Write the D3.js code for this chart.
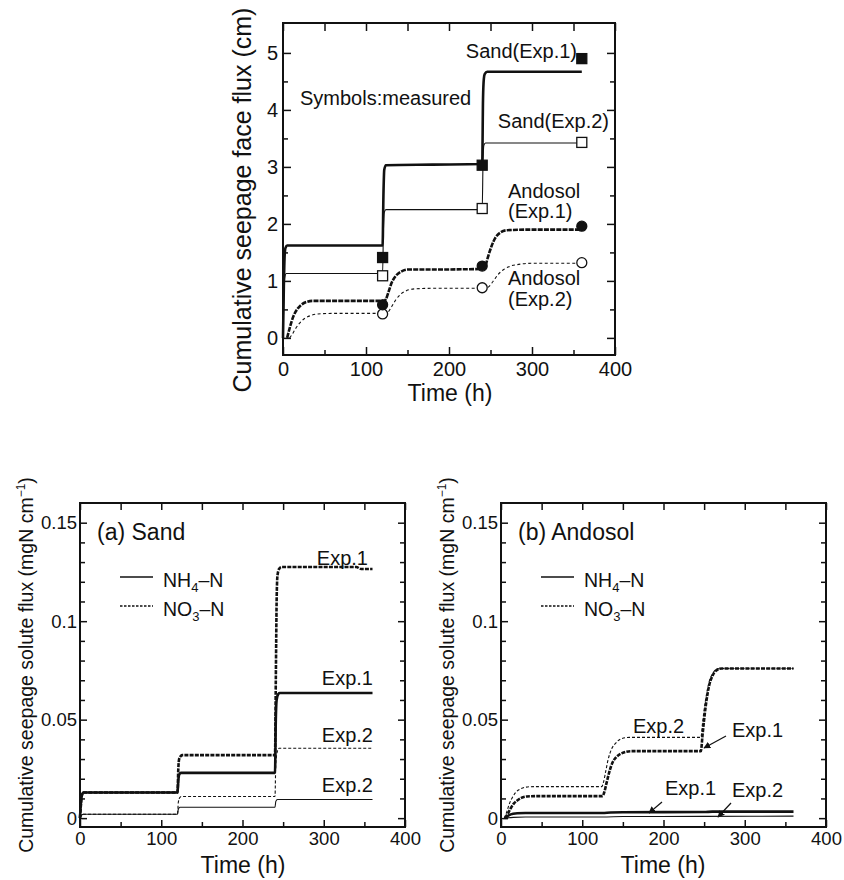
<!DOCTYPE html>
<html>
<head>
<meta charset="utf-8">
<script src="https://cdn.jsdelivr.net/npm/d3@7"></script>
<style>
body { margin: 0; background: #fff; }
text { font-family: "Liberation Sans", Arial, Helvetica, sans-serif; fill: #111; }
</style>
</head>
<body>
<div id="chart"></div>
<script>
// ---------- top panel: cumulative seepage face flux (cm) ----------
var measTime = [120, 240, 360];
var sandExp1Meas = [1.41, 3.03, 4.9];
var sandExp2Meas = [1.09, 2.27, 3.43];
var andoExp1Meas = [0.58, 1.26, 1.96];
var andoExp2Meas = [0.42, 0.88, 1.32];

var sandExp1T = [0, 1, 2, 3, 5, 120, 121, 122, 124, 180, 240, 241, 242, 243, 246, 360];
var sandExp1V = [0, 0.9, 1.45, 1.58, 1.62, 1.62, 2.5, 2.95, 3.03, 3.04, 3.05, 4.2, 4.55, 4.63, 4.67, 4.67];
var sandExp2T = [0, 1, 2, 4, 120, 121, 122, 124, 240, 241, 242, 244, 360];
var sandExp2V = [0, 0.7, 1.05, 1.13, 1.13, 1.9, 2.2, 2.25, 2.25, 3.1, 3.38, 3.42, 3.42];
var andoExp1T = [5, 8, 12, 17, 22, 28, 36, 60, 121, 124, 127, 131, 136, 142, 150, 180, 241, 244, 247, 251, 256, 262, 270, 300, 360];
var andoExp1V = [0, 0.17, 0.36, 0.5, 0.58, 0.63, 0.65, 0.65, 0.65, 0.68, 0.8, 0.97, 1.09, 1.16, 1.2, 1.2, 1.21, 1.27, 1.42, 1.6, 1.76, 1.85, 1.89, 1.9, 1.9];
var andoExp2T = [8, 11, 15, 20, 26, 33, 42, 60, 123, 127, 131, 136, 142, 149, 158, 180, 244, 248, 253, 259, 266, 274, 284, 300, 360];
var andoExp2V = [0, 0.06, 0.16, 0.26, 0.34, 0.39, 0.42, 0.43, 0.43, 0.46, 0.55, 0.67, 0.77, 0.83, 0.86, 0.87, 0.87, 0.9, 0.99, 1.11, 1.2, 1.26, 1.29, 1.31, 1.31];

// ---------- bottom panels: cumulative seepage solute flux ----------
// (a) Sand
var sNH4Exp1T = [0, 1, 2, 4, 120, 121, 122, 124, 240, 241, 242, 244, 246, 360];
var sNH4Exp1V = [0, 0.007, 0.011, 0.013, 0.013, 0.019, 0.022, 0.023, 0.023, 0.05, 0.06, 0.063, 0.0635, 0.0635];
var sNO3Exp1T = [0, 1, 2, 4, 120, 121, 122, 124, 126, 240, 241, 242, 243, 245, 248, 340, 346, 360];
var sNO3Exp1V = [0, 0.006, 0.011, 0.013, 0.013, 0.025, 0.03, 0.0315, 0.032, 0.032, 0.07, 0.11, 0.123, 0.1265, 0.1275, 0.1275, 0.1265, 0.1265];
var sNO3Exp2T = [0, 2, 4, 120, 121, 123, 125, 240, 241, 243, 245, 360];
var sNO3Exp2V = [0, 0.0015, 0.002, 0.002, 0.008, 0.0105, 0.011, 0.011, 0.028, 0.034, 0.0355, 0.0355];
var sNH4Exp2T = [0, 2, 4, 120, 121, 123, 240, 241, 243, 360];
var sNH4Exp2V = [0, 0.0015, 0.002, 0.002, 0.0045, 0.0055, 0.0055, 0.0085, 0.0095, 0.0095];

// (b) Andosol
var aNO3Exp1T = [5, 8, 12, 16, 20, 25, 32, 45, 125, 127, 130, 133, 137, 142, 149, 160, 246, 248, 250, 253, 256, 260, 265, 272, 360];
var aNO3Exp1V = [0, 0.002, 0.005, 0.0075, 0.009, 0.0103, 0.011, 0.0112, 0.0112, 0.013, 0.018, 0.023, 0.028, 0.031, 0.033, 0.034, 0.034, 0.042, 0.05, 0.06, 0.067, 0.072, 0.075, 0.076, 0.076];
var aNO3Exp2T = [4, 7, 10, 14, 18, 24, 30, 40, 124, 126, 129, 132, 136, 141, 148, 158, 246, 248, 250, 253, 256, 260, 265, 272, 360];
var aNO3Exp2V = [0, 0.003, 0.007, 0.0105, 0.013, 0.0148, 0.0157, 0.016, 0.016, 0.018, 0.024, 0.03, 0.035, 0.038, 0.0403, 0.041, 0.041, 0.048, 0.055, 0.063, 0.069, 0.073, 0.0755, 0.076, 0.076];
var aNH4Exp1T = [5, 10, 15, 20, 30, 125, 135, 150, 250, 260, 360];
var aNH4Exp1V = [0, 0.0015, 0.0022, 0.0025, 0.0026, 0.0026, 0.0029, 0.003, 0.0031, 0.0033, 0.0033];
var aNH4Exp2T = [5, 15, 30, 125, 150, 250, 360];
var aNH4Exp2V = [0, 0.0004, 0.0006, 0.0006, 0.0008, 0.0009, 0.001];

var xMajor = [0, 100, 200, 300, 400];
var xMinor = [50, 150, 250, 350];
var topYMajor = [0, 1, 2, 3, 4, 5];
var topYMinor = [0.5, 1.5, 2.5, 3.5, 4.5];
var botYMajor = [0, 0.05, 0.1, 0.15];
var botYMinor = [0.01, 0.02, 0.03, 0.04, 0.06, 0.07, 0.08, 0.09, 0.11, 0.12, 0.13, 0.14];
var botYLabels = ["0", "0.05", "0.1", "0.15"];

var svg = d3.select("#chart").append("svg")
    .attr("width", 844)
    .attr("height", 880);

var defs = svg.append("defs");
defs.append("marker")
    .attr("id", "arrow")
    .attr("viewBox", "0 0 10 10")
    .attr("refX", 9).attr("refY", 5)
    .attr("markerWidth", 7).attr("markerHeight", 7)
    .attr("markerUnits", "userSpaceOnUse")
    .attr("orient", "auto")
    .append("path")
    .attr("d", "M0,0L10,5L0,10z")
    .attr("fill", "#111");

function panel(o) {
    var g = svg.append("g").attr("transform", "translate(" + o.left + "," + o.top + ")");
    var w = o.right - o.left, h = o.bottom - o.top;
    var x = d3.scaleLinear().domain([0, 400]).range([0, w]);
    var y = d3.scaleLinear().domain(o.yDomain).range([h, 0]);

    function styleAxis(sel) {
        sel.select(".domain").remove();
        sel.selectAll("line").attr("stroke", "#111").attr("stroke-width", 1.5);
        sel.selectAll("text").attr("font-size", o.tickFont).attr("fill", "#111")
            .attr("font-family", "Liberation Sans, Arial, sans-serif");
    }

    // bottom / top
    g.append("g").attr("transform", "translate(0," + h + ")")
        .call(d3.axisBottom(x).tickValues(xMajor).tickSize(-o.major).tickPadding(o.xPad).tickFormat(d3.format("d")))
        .call(styleAxis);
    g.append("g").attr("transform", "translate(0," + h + ")")
        .call(d3.axisBottom(x).tickValues(xMinor).tickSize(-o.minor).tickFormat(""))
        .call(styleAxis);
    g.append("g")
        .call(d3.axisTop(x).tickValues(xMajor.concat(xMinor)).tickSize(-o.major).tickFormat(""))
        .call(styleAxis);
    // left / right
    g.append("g")
        .call(d3.axisLeft(y).tickValues(o.yMajor).tickSize(-o.major).tickPadding(o.yPad)
            .tickFormat(function (d, i) { return o.yLabels ? o.yLabels[i] : d; }))
        .call(styleAxis);
    g.append("g")
        .call(d3.axisLeft(y).tickValues(o.yMinor).tickSize(-o.minor).tickFormat(""))
        .call(styleAxis);
    g.append("g").attr("transform", "translate(" + w + ",0)")
        .call(d3.axisRight(y).tickValues(o.yMajor).tickSize(-o.major).tickFormat(""))
        .call(styleAxis);
    g.append("g").attr("transform", "translate(" + w + ",0)")
        .call(d3.axisRight(y).tickValues(o.yMinor).tickSize(-o.minor).tickFormat(""))
        .call(styleAxis);

    g.append("rect")
        .attr("width", w).attr("height", h)
        .attr("fill", "none").attr("stroke", "#111").attr("stroke-width", 2);

    return { g: g, x: x, y: y, w: w, h: h };
}

function addLine(p, ts, vs, width, dash) {
    var pts = ts.map(function (t, i) { return [t, vs[i]]; });
    p.g.append("path").datum(pts)
        .attr("fill", "none")
        .attr("stroke", "#111")
        .attr("stroke-width", width)
        .attr("stroke-dasharray", dash || null)
        .attr("d", d3.line()
            .x(function (d) { return p.x(d[0]); })
            .y(function (d) { return p.y(d[1]); })
            .curve(d3.curveMonotoneX));
}

function label(p, x, y, str, size, anchor) {
    return p.g.append("text")
        .attr("x", x).attr("y", y)
        .attr("font-size", size)
        .attr("text-anchor", anchor || "start")
        .text(str);
}

function arrow(p, x1, y1, x2, y2) {
    p.g.append("line")
        .attr("x1", x1).attr("y1", y1).attr("x2", x2).attr("y2", y2)
        .attr("stroke", "#111").attr("stroke-width", 1.2)
        .attr("marker-end", "url(#arrow)");
}

// ================= top panel =================
var pTop = panel({
    left: 283, right: 615, top: 23, bottom: 355,
    yDomain: [-0.3, 5.525], yMajor: topYMajor, yMinor: topYMinor,
    major: 8, minor: 5, tickFont: 20, xPad: 7, yPad: 5
});

addLine(pTop, sandExp2T, sandExp2V, 1.1);
addLine(pTop, sandExp1T, sandExp1V, 2.6);
addLine(pTop, andoExp2T, andoExp2V, 1.1, "3,2.5");
addLine(pTop, andoExp1T, andoExp1V, 2.6, "5,1.2");

function squares(vals, filled) {
    pTop.g.selectAll(null).data(vals).enter().append("rect")
        .attr("x", function (d, i) { return pTop.x(measTime[i]) - 5; })
        .attr("y", function (d) { return pTop.y(d) - 5; })
        .attr("width", 10).attr("height", 10)
        .attr("fill", filled ? "#111" : "#fff")
        .attr("stroke", "#111").attr("stroke-width", 1.3);
}
function circles(vals, filled) {
    pTop.g.selectAll(null).data(vals).enter().append("circle")
        .attr("cx", function (d, i) { return pTop.x(measTime[i]); })
        .attr("cy", function (d) { return pTop.y(d); })
        .attr("r", 5)
        .attr("fill", filled ? "#111" : "#fff")
        .attr("stroke", "#111").attr("stroke-width", 1.3);
}
squares(sandExp2Meas, false);
squares(sandExp1Meas, true);
circles(andoExp2Meas, false);
circles(andoExp1Meas, true);

label(pTop, 577 - 283, 58 - 23, "Sand(Exp.1)", 20, "end");
label(pTop, 300 - 283, 105 - 23, "Symbols:measured", 20);
label(pTop, 609 - 283, 128 - 23, "Sand(Exp.2)", 20, "end");
label(pTop, 508 - 283, 198 - 23, "Andosol", 20);
label(pTop, 508 - 283, 218 - 23, "(Exp.1)", 20);
label(pTop, 508 - 283, 285 - 23, "Andosol", 20);
label(pTop, 508 - 283, 306 - 23, "(Exp.2)", 20);

svg.append("text")
    .attr("transform", "translate(251,200) rotate(-90)")
    .attr("text-anchor", "middle")
    .attr("font-size", 25)
    .text("Cumulative seepage face flux (cm)");
svg.append("text")
    .attr("x", 450).attr("y", 401)
    .attr("text-anchor", "middle")
    .attr("font-size", 23)
    .text("Time (h)");

// ================= bottom panels =================
function bottomPanel(left, right) {
    return panel({
        left: left, right: right, top: 503, bottom: 827,
        yDomain: [-0.0045, 0.16], yMajor: botYMajor, yMinor: botYMinor, yLabels: botYLabels,
        major: 7, minor: 5, tickFont: 18.5, xPad: 5, yPad: 3
    });
}

function legend(p, title) {
    label(p, 97 - 80, 540 - 503, title, 23);
    p.g.append("line").attr("x1", 40).attr("x2", 73).attr("y1", 74).attr("y2", 74)
        .attr("stroke", "#111").attr("stroke-width", 1.5);
    p.g.append("line").attr("x1", 40).attr("x2", 73).attr("y1", 103).attr("y2", 103)
        .attr("stroke", "#111").attr("stroke-width", 1.5).attr("stroke-dasharray", "2.5,1.5");
    var t1 = label(p, 83, 84, "NH", 19.5);
    t1.append("tspan").attr("font-size", 13).attr("dy", 5).text("4");
    t1.append("tspan").attr("dy", -5).text("–N");
    var t2 = label(p, 83, 113, "NO", 19.5);
    t2.append("tspan").attr("font-size", 13).attr("dy", 5).text("3");
    t2.append("tspan").attr("dy", -5).text("–N");
}

function yTitle(xBase) {
    var t = svg.append("text")
        .attr("transform", "translate(" + xBase + ",665) rotate(-90)")
        .attr("text-anchor", "middle")
        .attr("font-size", 19.5)
        .text("Cumulative seepage solute flux (mgN cm");
    t.append("tspan").attr("font-size", 12).attr("dy", -8).text("−1");
    t.append("tspan").attr("dy", 8).text(")");
}

// (a) Sand
var pa = bottomPanel(80, 405);
addLine(pa, sNH4Exp2T, sNH4Exp2V, 1.1);
addLine(pa, sNO3Exp2T, sNO3Exp2V, 1.1, "3,2");
addLine(pa, sNH4Exp1T, sNH4Exp1V, 2.6);
addLine(pa, sNO3Exp1T, sNO3Exp1V, 2.6, "4,1.2");
legend(pa, "(a) Sand");
label(pa, 368 - 80, 565 - 503, "Exp.1", 20, "end");
label(pa, 373 - 80, 685 - 503, "Exp.1", 20, "end");
label(pa, 373 - 80, 742 - 503, "Exp.2", 20, "end");
label(pa, 373 - 80, 792 - 503, "Exp.2", 20, "end");
yTitle(33);
svg.append("text").attr("x", 243).attr("y", 873).attr("text-anchor", "middle")
    .attr("font-size", 23).text("Time (h)");

// (b) Andosol
var pb = bottomPanel(501, 826);
addLine(pb, aNH4Exp2T, aNH4Exp2V, 1.1);
addLine(pb, aNO3Exp2T, aNO3Exp2V, 1.1, "3,2");
addLine(pb, aNH4Exp1T, aNH4Exp1V, 2.6);
addLine(pb, aNO3Exp1T, aNO3Exp1V, 2.6, "4,1.2");
legend(pb, "(b) Andosol");
label(pb, 633 - 501, 733 - 503, "Exp.2", 20);
label(pb, 732 - 501, 737 - 503, "Exp.1", 20);
arrow(pb, 726 - 501, 736 - 503, 704 - 501, 748 - 503);
label(pb, 665 - 501, 795 - 503, "Exp.1", 20);
arrow(pb, 662 - 501, 802 - 503, 649 - 501, 813 - 503);
label(pb, 732 - 501, 797 - 503, "Exp.2", 20);
arrow(pb, 731 - 501, 803 - 503, 718 - 501, 817 - 503);
yTitle(454);
svg.append("text").attr("x", 663).attr("y", 873).attr("text-anchor", "middle")
    .attr("font-size", 23).text("Time (h)");
</script>
</body>
</html>
